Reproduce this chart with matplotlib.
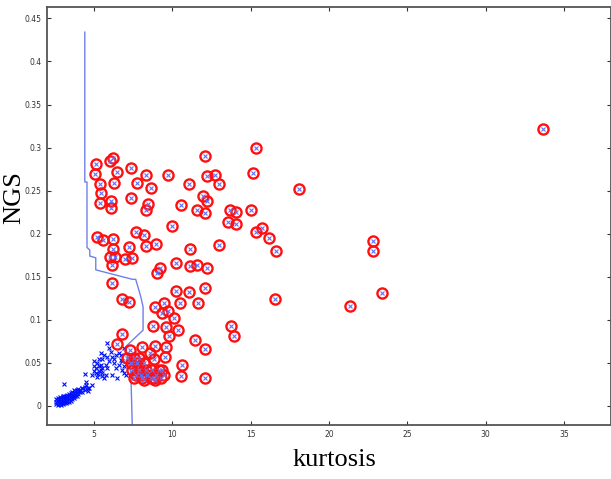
from matplotlib import pyplot as plt

# points marked with a red circle (kurtosis, NGS)
RED_X = [5.15, 5.04, 6.23, 6.02, 6.49, 7.38, 8.34, 9.73, 5.36, 6.26, 7.77, 8.66,
         11.03, 12.18, 12.07, 5.43, 7.38, 6.07, 5.38, 6.07, 8.47, 8.34, 10.54,
         11.96, 12.24, 11.60, 12.07, 10.00, 5.17, 5.59, 6.23, 7.66, 8.19, 8.30,
         8.96, 7.26, 6.23, 11.11, 6.02, 6.34, 6.96, 7.45, 6.17, 9.22, 10.26,
         11.13, 11.60, 12.20,
         9.04, 6.17, 6.81, 7.24, 10.22, 11.07, 12.09, 9.47, 10.48, 11.63, 8.90,
         9.33, 9.75, 10.11, 8.77, 9.62, 10.39, 9.79, 11.45, 12.09, 6.81, 6.49,
         8.09, 8.90, 9.58, 8.56, 8.83, 9.54, 7.28, 10.64, 10.54, 12.09,
         7.36, 7.75, 8.19, 7.11, 7.56, 7.88, 7.43, 7.88, 8.32, 8.71, 9.15, 9.35,
         7.68, 8.00, 8.39, 8.96, 9.47, 7.56, 8.07, 8.64, 8.83, 9.28, 8.20, 8.90,
         15.35, 15.16, 12.73, 12.99, 18.10, 13.67, 14.09, 15.01, 13.52, 14.09,
         15.33, 15.75, 16.20, 16.63, 12.99, 16.57, 13.75, 13.96,
         33.69, 22.83, 22.83, 21.36, 23.40]
RED_Y = [0.281, 0.269, 0.288, 0.284, 0.272, 0.276, 0.268, 0.268, 0.258, 0.259,
         0.259, 0.253, 0.258, 0.267, 0.290, 0.247, 0.242, 0.238, 0.236, 0.230,
         0.235, 0.228, 0.233, 0.244, 0.238, 0.227, 0.224, 0.209, 0.196, 0.193,
         0.194, 0.202, 0.199, 0.186, 0.188, 0.184, 0.182, 0.182, 0.173, 0.173,
         0.171, 0.172, 0.164, 0.160, 0.166, 0.163, 0.164, 0.160,
         0.154, 0.143, 0.124, 0.121, 0.133, 0.132, 0.137, 0.120, 0.119, 0.120,
         0.115, 0.108, 0.110, 0.102, 0.093, 0.092, 0.088, 0.081, 0.076, 0.066,
         0.083, 0.072, 0.068, 0.070, 0.068, 0.061, 0.055, 0.057, 0.065, 0.048,
         0.035, 0.033,
         0.050, 0.050, 0.050, 0.056, 0.056, 0.056, 0.042, 0.042, 0.042, 0.042,
         0.042, 0.042, 0.036, 0.036, 0.036, 0.036, 0.036, 0.033, 0.033, 0.033,
         0.033, 0.033, 0.030, 0.030,
         0.299, 0.271, 0.268, 0.258, 0.252, 0.227, 0.225, 0.227, 0.214, 0.211,
         0.202, 0.207, 0.195, 0.180, 0.187, 0.124, 0.093, 0.081,
         0.321, 0.191, 0.180, 0.116, 0.131]

# points without circle
BLUE_X = [2.6, 2.6, 2.6, 2.7, 2.7, 2.7, 2.7, 2.8, 2.8, 2.8, 2.8, 2.9, 2.9, 2.9,
          2.9, 3.0, 3.0, 3.0, 3.0, 3.0, 3.1, 3.1, 3.1, 3.1, 3.2, 3.2, 3.2, 3.2,
          3.3, 3.3, 3.3, 3.3, 3.4, 3.4, 3.4, 3.4, 3.5, 3.5, 3.5, 3.5, 3.6, 3.6,
          3.6, 3.6, 3.7, 3.7, 3.7, 3.7, 3.8, 3.8, 3.8, 3.9, 3.9, 3.9, 4.0, 4.0,
          4.0, 4.1, 4.1, 4.2, 4.2, 4.4, 4.4, 4.6,
          3.08, 4.42, 4.47, 4.68, 4.25, 6.07, 5.96, 6.17, 5.32, 5.53, 5.21, 5.00,
          5.11, 5.32, 5.43, 5.53, 5.11, 4.89, 5.21, 5.64, 5.85, 5.96, 6.28, 6.39,
          6.60, 6.71, 6.92, 6.17, 6.49, 7.03, 5.64, 5.85, 5.43, 6.39, 6.60, 6.28,
          5.75, 5.53, 5.32, 4.64, 4.85, 4.51, 6.92, 5.00, 5.43, 5.27, 5.00, 5.49,
          5.75, 5.83, 6.71, 6.81, 6.77, 6.92]
BLUE_Y = [0.002, 0.005, 0.008, 0.001, 0.004, 0.007, 0.009, 0.002, 0.005, 0.008,
          0.010, 0.001, 0.003, 0.006, 0.009, 0.002, 0.004, 0.007, 0.010, 0.011,
          0.003, 0.005, 0.008, 0.011, 0.003, 0.006, 0.009, 0.012, 0.004, 0.007,
          0.010, 0.013, 0.005, 0.008, 0.011, 0.014, 0.006, 0.009, 0.012, 0.015,
          0.008, 0.010, 0.013, 0.016, 0.009, 0.012, 0.015, 0.018, 0.011, 0.014,
          0.017, 0.012, 0.015, 0.019, 0.014, 0.017, 0.020, 0.016, 0.019, 0.016,
          0.021, 0.019, 0.022, 0.021,
          0.026, 0.037, 0.028, 0.021, 0.021, 0.063, 0.067, 0.057, 0.055, 0.055,
          0.050, 0.046, 0.044, 0.046, 0.042, 0.038, 0.038, 0.036, 0.034, 0.032,
          0.044, 0.052, 0.050, 0.044, 0.048, 0.053, 0.046, 0.036, 0.032, 0.036,
          0.059, 0.057, 0.061, 0.059, 0.061, 0.055, 0.048, 0.044, 0.040, 0.017,
          0.024, 0.024, 0.067, 0.052, 0.048, 0.037, 0.040, 0.035, 0.036, 0.073,
          0.059, 0.052, 0.042, 0.038]

# decision boundary
LINE_X = [4.41, 4.41, 4.55, 4.55, 4.73, 4.73, 5.11, 5.11, 7.45, 7.66, 7.98,
          8.13, 8.13, 7.03, 7.13, 7.35, 7.45]
LINE_Y = [0.434, 0.260, 0.260, 0.184, 0.181, 0.174, 0.172, 0.158, 0.147, 0.147,
          0.127, 0.115, 0.088, 0.069, 0.057, 0.038, -0.03]

XTICKS = [5, 10, 15, 20, 25, 30, 35]
YTICKS = [0, 0.05, 0.1, 0.15, 0.2, 0.25, 0.3, 0.35, 0.4, 0.45]
YTICK_LABELS = ['0', '0.05', '0.1', '0.15', '0.2', '0.25', '0.3', '0.35', '0.4', '0.45']


fig = plt.figure(figsize=(6.11, 4.79), dpi=100)
ax = fig.add_axes([0.077, 0.113, 0.923, 0.872])

ax.plot(LINE_X, LINE_Y, color='#7080e8', lw=1.0, zorder=2)
ax.plot(BLUE_X, BLUE_Y, 'x', color='#0010ff', ms=3.2, mew=0.8, zorder=3)
ax.plot(RED_X, RED_Y, 'o', mfc='none', mec='#ff1010', ms=7.3, mew=1.7, zorder=4)
ax.plot(RED_X, RED_Y, 'x', color='#6070ff', ms=2.5, mew=0.8, zorder=5)

ax.set_xlim(2, 38)
ax.set_ylim(-0.022, 0.463)
ax.set_xticks(XTICKS)
ax.set_xticklabels([str(t) for t in XTICKS])
ax.set_yticks(YTICKS)
ax.set_yticklabels(YTICK_LABELS)
ax.tick_params(direction='in', top=True, right=True, length=3, width=0.8,
               labelsize=5.5, colors='#333333', pad=4)
for s in ax.spines.values():
    s.set_color('#555555')
    s.set_linewidth(1.3)

ax.set_xlabel('kurtosis', family='Liberation Serif', fontsize=19)
ax.xaxis.set_label_coords(0.509, -0.058)
ax.set_ylabel('NGS', family='Liberation Serif', fontsize=19)
ax.yaxis.set_label_coords(-0.039, 0.545)

fig.savefig('out.png', dpi=100)
